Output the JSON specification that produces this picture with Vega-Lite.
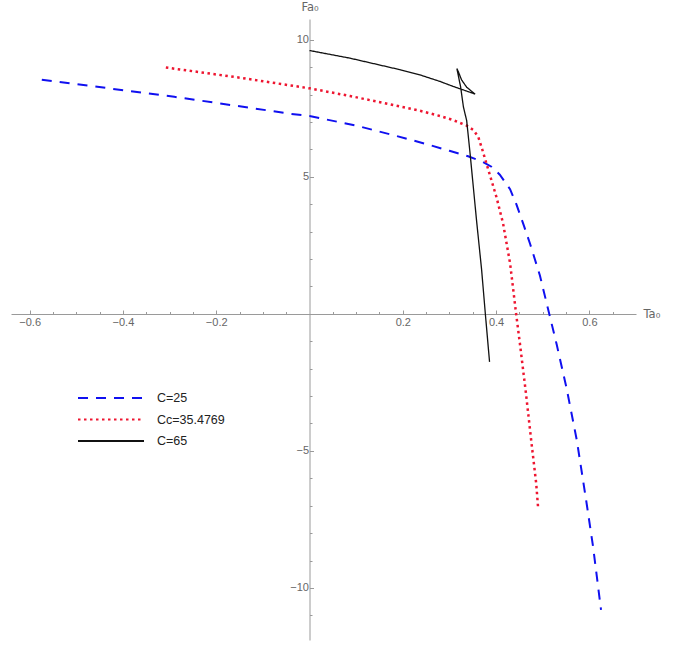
{
  "$schema": "https://vega.github.io/schema/vega-lite/v6.json",
  "width": 625,
  "height": 621,
  "autosize": {"type": "none"},
  "padding": {"left": 11, "top": 19, "right": 53, "bottom": 5},
  "background": "white",
  "config": {"view": {"stroke": null}, "axis": {"grid": false}},
  "data": {"values": [
    {"s": "C=25", "i": 1, "x": -0.574, "y": 8.54},
    {"s": "C=25", "i": 2, "x": -0.47, "y": 8.32},
    {"s": "C=25", "i": 3, "x": -0.39, "y": 8.14},
    {"s": "C=25", "i": 4, "x": -0.29, "y": 7.92},
    {"s": "C=25", "i": 5, "x": -0.2, "y": 7.7},
    {"s": "C=25", "i": 6, "x": -0.12, "y": 7.5},
    {"s": "C=25", "i": 7, "x": -0.04, "y": 7.3},
    {"s": "C=25", "i": 8, "x": 0.0, "y": 7.22},
    {"s": "C=25", "i": 9, "x": 0.1, "y": 6.87},
    {"s": "C=25", "i": 10, "x": 0.18, "y": 6.52},
    {"s": "C=25", "i": 11, "x": 0.25, "y": 6.2},
    {"s": "C=25", "i": 12, "x": 0.3, "y": 5.95},
    {"s": "C=25", "i": 13, "x": 0.34, "y": 5.75},
    {"s": "C=25", "i": 14, "x": 0.37, "y": 5.56},
    {"s": "C=25", "i": 15, "x": 0.39, "y": 5.37},
    {"s": "C=25", "i": 16, "x": 0.408, "y": 5.08},
    {"s": "C=25", "i": 17, "x": 0.43, "y": 4.55},
    {"s": "C=25", "i": 18, "x": 0.444, "y": 3.98},
    {"s": "C=25", "i": 19, "x": 0.46, "y": 3.2},
    {"s": "C=25", "i": 20, "x": 0.473, "y": 2.55},
    {"s": "C=25", "i": 21, "x": 0.494, "y": 1.4},
    {"s": "C=25", "i": 22, "x": 0.514, "y": 0.0},
    {"s": "C=25", "i": 23, "x": 0.53, "y": -1.12},
    {"s": "C=25", "i": 24, "x": 0.551, "y": -2.7},
    {"s": "C=25", "i": 25, "x": 0.573, "y": -4.6},
    {"s": "C=25", "i": 26, "x": 0.594, "y": -6.9},
    {"s": "C=25", "i": 27, "x": 0.608, "y": -8.5},
    {"s": "C=25", "i": 28, "x": 0.625, "y": -10.8},
    {"s": "Cc=35.4769", "i": 1, "x": -0.308, "y": 8.99},
    {"s": "Cc=35.4769", "i": 2, "x": -0.15, "y": 8.62},
    {"s": "Cc=35.4769", "i": 3, "x": 0.0, "y": 8.23},
    {"s": "Cc=35.4769", "i": 4, "x": 0.087, "y": 7.95},
    {"s": "Cc=35.4769", "i": 5, "x": 0.194, "y": 7.57},
    {"s": "Cc=35.4769", "i": 6, "x": 0.237, "y": 7.41},
    {"s": "Cc=35.4769", "i": 7, "x": 0.28, "y": 7.22},
    {"s": "Cc=35.4769", "i": 8, "x": 0.308, "y": 7.07},
    {"s": "Cc=35.4769", "i": 9, "x": 0.337, "y": 6.87},
    {"s": "Cc=35.4769", "i": 10, "x": 0.352, "y": 6.7},
    {"s": "Cc=35.4769", "i": 11, "x": 0.362, "y": 6.45},
    {"s": "Cc=35.4769", "i": 12, "x": 0.37, "y": 6.02},
    {"s": "Cc=35.4769", "i": 13, "x": 0.38, "y": 5.45},
    {"s": "Cc=35.4769", "i": 14, "x": 0.394, "y": 4.65},
    {"s": "Cc=35.4769", "i": 15, "x": 0.401, "y": 4.25},
    {"s": "Cc=35.4769", "i": 16, "x": 0.415, "y": 3.3},
    {"s": "Cc=35.4769", "i": 17, "x": 0.43, "y": 1.85},
    {"s": "Cc=35.4769", "i": 18, "x": 0.443, "y": 0.0},
    {"s": "Cc=35.4769", "i": 19, "x": 0.451, "y": -1.07},
    {"s": "Cc=35.4769", "i": 20, "x": 0.464, "y": -2.89},
    {"s": "Cc=35.4769", "i": 21, "x": 0.476, "y": -4.72},
    {"s": "Cc=35.4769", "i": 22, "x": 0.486, "y": -6.18},
    {"s": "Cc=35.4769", "i": 23, "x": 0.49, "y": -7.05},
    {"s": "C=65", "i": 1, "x": 0.0, "y": 9.61},
    {"s": "C=65", "i": 2, "x": 0.087, "y": 9.33},
    {"s": "C=65", "i": 3, "x": 0.194, "y": 8.91},
    {"s": "C=65", "i": 4, "x": 0.237, "y": 8.72},
    {"s": "C=65", "i": 5, "x": 0.28, "y": 8.48},
    {"s": "C=65", "i": 6, "x": 0.308, "y": 8.3},
    {"s": "C=65", "i": 7, "x": 0.33, "y": 8.17},
    {"s": "C=65", "i": 8, "x": 0.355, "y": 8.02},
    {"s": "C=65", "i": 9, "x": 0.337, "y": 8.27},
    {"s": "C=65", "i": 10, "x": 0.326, "y": 8.54},
    {"s": "C=65", "i": 11, "x": 0.319, "y": 8.84},
    {"s": "C=65", "i": 12, "x": 0.316, "y": 8.95},
    {"s": "C=65", "i": 13, "x": 0.324, "y": 8.28},
    {"s": "C=65", "i": 14, "x": 0.33, "y": 7.55},
    {"s": "C=65", "i": 15, "x": 0.337, "y": 7.05},
    {"s": "C=65", "i": 16, "x": 0.344, "y": 5.9},
    {"s": "C=65", "i": 17, "x": 0.358, "y": 3.43},
    {"s": "C=65", "i": 18, "x": 0.369, "y": 1.61},
    {"s": "C=65", "i": 19, "x": 0.377, "y": 0.0},
    {"s": "C=65", "i": 20, "x": 0.386, "y": -1.75}
  ]},
  "encoding": {
    "x": {
      "field": "x", "type": "quantitative",
      "scale": {"domain": [-0.64, 0.7], "nice": false, "zero": false},
      "axis": {
        "orient": "bottom", "offset": -326,
        "values": [-0.6, -0.55, -0.5, -0.45, -0.4, -0.35, -0.3, -0.25, -0.2, -0.15, -0.1, -0.05, 0.05, 0.1, 0.15, 0.2, 0.25, 0.3, 0.35, 0.4, 0.45, 0.5, 0.55, 0.6, 0.65],
        "format": ".1f",
        "labelExpr": "abs(datum.value*5 - round(datum.value*5)) < 0.001 ? datum.label : ''",
        "tickSize": {"condition": {"test": "abs(datum.value*5 - round(datum.value*5)) < 0.001", "value": -4}, "value": -2.5},
        "domainColor": "#9a9a9a", "tickColor": "#9a9a9a", "tickWidth": 1, "domainWidth": 1,
        "labelColor": "#666666", "labelFont": "Liberation Sans", "labelFontSize": 11, "labelPadding": 6,
        "labelOverlap": false, "labelFlush": false, "labelBound": false,
        "title": "Ta₀", "titleX": 632, "titleY": 0, "titleAlign": "left", "titleBaseline": "middle", "titleAngle": 0,
        "titleColor": "#666666", "titleFont": "DejaVu Sans", "titleFontSize": 11.5, "titleFontWeight": "normal"
      }
    },
    "y": {
      "field": "y", "type": "quantitative",
      "scale": {"domain": [-11.9, 10.76], "nice": false, "zero": false},
      "axis": {
        "orient": "left", "offset": -298.5,
        "values": [-11, -10, -9, -8, -7, -6, -5, -4, -3, -2, -1, 1, 2, 3, 4, 5, 6, 7, 8, 9, 10],
        "format": "d",
        "labelExpr": "datum.value % 5 === 0 ? datum.label : ''",
        "tickSize": {"condition": {"test": "datum.value % 5 === 0", "value": -4}, "value": -2.5},
        "domainColor": "#9a9a9a", "tickColor": "#9a9a9a", "tickWidth": 1, "domainWidth": 1,
        "labelColor": "#666666", "labelFont": "Liberation Sans", "labelFontSize": 11, "labelPadding": 5,
        "labelOverlap": false, "labelFlush": false, "labelBound": false,
        "title": "Fa₀", "titleX": 0, "titleY": -12, "titleAlign": "center", "titleBaseline": "middle", "titleAngle": 0,
        "titleColor": "#666666", "titleFont": "DejaVu Sans", "titleFontSize": 11.5, "titleFontWeight": "normal"
      }
    },
    "order": {"field": "i", "type": "quantitative"},
    "color": {
      "field": "s", "type": "nominal",
      "scale": {"domain": ["C=25", "Cc=35.4769", "C=65"], "range": ["#1010f0", "#ee1530", "#111111"]},
      "legend": {"orient": "none", "legendX": 66, "legendY": 372, "title": null, "symbolType": "stroke", "symbolSize": 4356, "symbolStrokeWidth": 2, "clipHeight": 14, "rowPadding": 7.5, "labelFontSize": 12.5, "labelFont": "Liberation Sans", "labelColor": "#222222", "labelOffset": 12, "padding": 0}
    },
    "strokeDash": {
      "field": "s", "type": "nominal",
      "scale": {"domain": ["C=25", "Cc=35.4769", "C=65"], "range": [[10, 8], [2.5, 3.5], [1, 0]]},
      "legend": {"orient": "none", "legendX": 66, "legendY": 372, "title": null, "symbolType": "stroke", "symbolSize": 4356, "symbolStrokeWidth": 2, "clipHeight": 14, "rowPadding": 7.5, "labelFontSize": 12.5, "labelFont": "Liberation Sans", "labelColor": "#222222", "labelOffset": 12, "padding": 0}
    }
  },
  "layer": [
    {"transform": [{"filter": "datum.s === 'C=25'"}], "mark": {"type": "line", "strokeWidth": 2}},
    {"transform": [{"filter": "datum.s === 'Cc=35.4769'"}], "mark": {"type": "line", "strokeWidth": 2.5}},
    {"transform": [{"filter": "datum.s === 'C=65'"}], "mark": {"type": "line", "strokeWidth": 1.3}}
  ]
}
